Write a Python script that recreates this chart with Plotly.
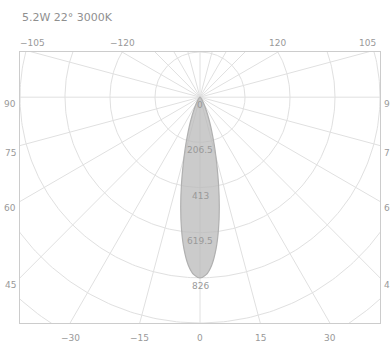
import numpy as np
import plotly.graph_objects as go

title_text = "5.2W 22° 3000K"
angles = [0, 2, 4, 6, 8, 10, 12, 14, 16, 18, 20, 22, 25, 30, 35, 40, 50, 60, 70, 80, 90]
intensity = [826, 812, 770, 700, 610, 510, 410, 320, 250, 190, 145, 110, 70, 35, 18, 10, 5, 2, 1, 0.5, 0]
ring_step = 206.5
ring_labels = ["0", "206.5", "413", "619.5", "826"]
side_angles = [90, 75, 60, 45]
top_angles = [105, 120]
bottom_angles = [-30, -15, 0, 15, 30]

XMAX = 4 * ring_step
YTOP = ring_step
YBOT = -5 * ring_step
grid_color = "#e0e0e0"
text_color = "#999999"

fig = go.Figure()

# rings
t = np.linspace(0, 2 * np.pi, 361)
for k in range(1, 8):
    r = k * ring_step
    fig.add_trace(go.Scatter(x=r * np.cos(t), y=r * np.sin(t), mode="lines",
                             line=dict(color=grid_color, width=1), hoverinfo="skip", showlegend=False))
# radial lines
for a in range(0, 360, 15):
    th = np.radians(a)
    L = 3000
    fig.add_trace(go.Scatter(x=[0, L * np.sin(th)], y=[0, -L * np.cos(th)], mode="lines",
                             line=dict(color=grid_color, width=1), hoverinfo="skip", showlegend=False))

# lobe
full_a = [-a for a in angles[::-1]] + angles[1:]
full_i = intensity[::-1] + intensity[1:]
th = np.radians(full_a)
xs = np.array(full_i) * np.sin(th)
ys = -np.array(full_i) * np.cos(th)
fig.add_trace(go.Scatter(x=xs, y=ys, mode="lines", fill="toself", fillcolor="rgba(185,185,185,0.75)",
                         line=dict(color="#b0b0b0", width=1.2, shape="spline"), hoverinfo="skip",
                         showlegend=False))

ann = []
font = dict(family="DejaVu Sans", size=9, color=text_color)
# ring labels
for k, lab in enumerate(ring_labels):
    ann.append(dict(x=0, y=-k * ring_step, text=lab, showarrow=False, xanchor="center", yanchor="top",
                    yshift=-1, font=font))
# side labels
for a in side_angles:
    th = np.radians(a)
    y = -XMAX / np.tan(th) if a != 90 else 0.0
    for side in (-1, 1):
        ann.append(dict(x=side * XMAX, y=y, text=str(a), showarrow=False,
                        xanchor="right" if side < 0 else "left", xshift=-2 if side < 0 else 2,
                        yanchor="top", font=font))
# top labels
for a in top_angles:
    th = np.radians(a)
    x = YTOP * np.tan(np.pi - th)
    for side in (-1, 1):
        ann.append(dict(x=side * x, y=YTOP, text=(str(-a) if side < 0 else str(a)).replace("-", "−"),
                        showarrow=False, xanchor="center", yanchor="bottom", yshift=2, font=font))
# bottom labels
for a in bottom_angles:
    th = np.radians(a)
    x = -YBOT * np.tan(th)
    ann.append(dict(x=x, y=YBOT, text=str(a).replace("-", "−"), showarrow=False, xanchor="center",
                    yanchor="top", yshift=-8, font=font))

ann.append(dict(xref="paper", yref="paper", x=0.0, y=1.0, yanchor="bottom", yshift=26, xanchor="left",
                text=title_text, showarrow=False,
                font=dict(family="DejaVu Sans", size=11, color="#8f8f8f")))

fig.update_layout(
    width=390, height=349,
    margin=dict(l=20, r=10, t=52, b=26),
    paper_bgcolor="white", plot_bgcolor="white",
    annotations=ann,
    xaxis=dict(range=[-XMAX, XMAX], showgrid=False, zeroline=False, showticklabels=False,
               showline=True, mirror=True, linecolor="#cccccc", linewidth=1, fixedrange=True),
    yaxis=dict(range=[YBOT, YTOP], showgrid=False, zeroline=False, showticklabels=False,
               showline=True, mirror=True, linecolor="#cccccc", linewidth=1, fixedrange=True),
)
fig.write_html("out.html", config={"displayModeBar": False},
               post_script="document.body.style.margin='0';")
